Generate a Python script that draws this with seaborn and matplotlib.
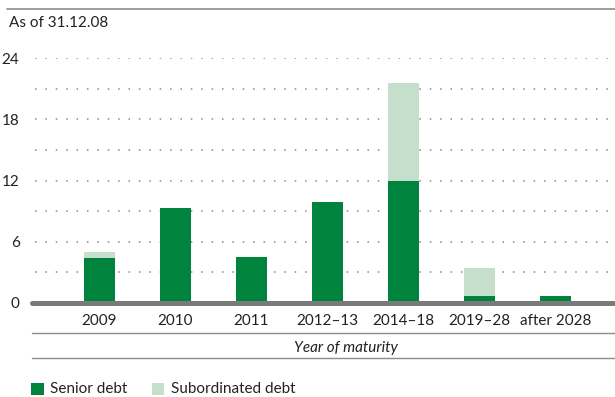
import matplotlib
matplotlib.use("Agg")
import matplotlib.pyplot as plt
from matplotlib.lines import Line2D
from matplotlib.patches import Rectangle
import seaborn as sns
import pandas as pd

# Maturity profile (EUR bn), as of 31.12.08
categories = ["2009", "2010", "2011", "2012–13", "2014–18", "2019–28", "after 2028"]
senior_debt = [4.4, 9.3, 4.5, 9.9, 12.0, 0.7, 0.7]
subordinated_debt = [0.6, 0.0, 0.0, 0.0, 9.6, 2.7, 0.0]
y_ticks = [0, 6, 12, 18, 24]
grid_levels = [3, 6, 9, 12, 15, 18, 21, 24]

SENIOR = "#00843d"
SUBORD = "#c5dfcc"
GREY = "#7a7a7a"
TEXT = "#222222"
FS = 11

sns.set_theme(style="white")
plt.rcParams["font.family"] = ["Lato", "DejaVu Sans"]

df = pd.DataFrame({
    "year": categories,
    "senior": senior_debt,
    "total": [s + b for s, b in zip(senior_debt, subordinated_debt)],
})

W, H = 615, 397
fig = plt.figure(figsize=(W / 100, H / 100), dpi=100)
left_px, right_px = 32, 615
y0_px, y24_px = 302.9, 58.1
ax = fig.add_axes([left_px / W, (H - y0_px) / H, (right_px - left_px) / W, (y0_px - y24_px) / H])

bar_w = 31 / 76
sns.barplot(data=df, x="year", y="total", color=SUBORD, width=bar_w, ax=ax,
            saturation=1, linewidth=0, zorder=3)
sns.barplot(data=df, x="year", y="senior", color=SENIOR, width=bar_w, ax=ax,
            saturation=1, linewidth=0, zorder=4)

ax.set_xlim(-(99.5 - left_px) / 76, 6 + (right_px - 555.5) / 76)
ax.set_ylim(0, 24)

# dotted grid
for g in grid_levels:
    ax.axhline(g, color="#888888", lw=1.1, ls=(0, (1, 5.8)), zorder=1, xmin=0.006)
# zero line
ax.axhline(0, color=GREY, lw=3.6, zorder=5, clip_on=False)

for s in ax.spines.values():
    s.set_visible(False)
ax.set_yticks(y_ticks)
ax.set_yticklabels([str(t) for t in y_ticks], fontsize=FS, color=TEXT)
ax.tick_params(axis="y", length=0, pad=9)
ax.tick_params(axis="x", length=0, pad=8, labelsize=FS, labelcolor=TEXT)
ax.set_xlabel("")
ax.set_ylabel("")
ax.grid(False)

# frame lines
def hline(ypx, x0px, x1px, lw=1.0, color="#8c8c8c"):
    fig.add_artist(Line2D([x0px / W, x1px / W], [(H - ypx) / H, (H - ypx) / H],
                          color=color, lw=lw, transform=fig.transFigure))

hline(9, 7, 615, lw=1.2)
hline(333, 32, 615, lw=1.0)
hline(358, 32, 615, lw=1.0)

fig.text(9 / W, (H - 23) / H, "As of 31.12.08", fontsize=FS, color=TEXT, va="center", ha="left")
fig.text(346 / W, (H - 348) / H, "Year of maturity", fontsize=FS, style="italic",
         color=TEXT, va="center", ha="center")

# legend
for xpx, label, col in [(31, "Senior debt", SENIOR), (152, "Subordinated debt", SUBORD)]:
    fig.add_artist(Rectangle((xpx / W, (H - 395) / H), 12.5 / W, 12.5 / H, color=col,
                             transform=fig.transFigure, lw=0))
    fig.text((xpx + 19) / W, (H - 389) / H, label, fontsize=FS, color=TEXT,
             va="center", ha="left")

fig.savefig("out.png", dpi=100)
